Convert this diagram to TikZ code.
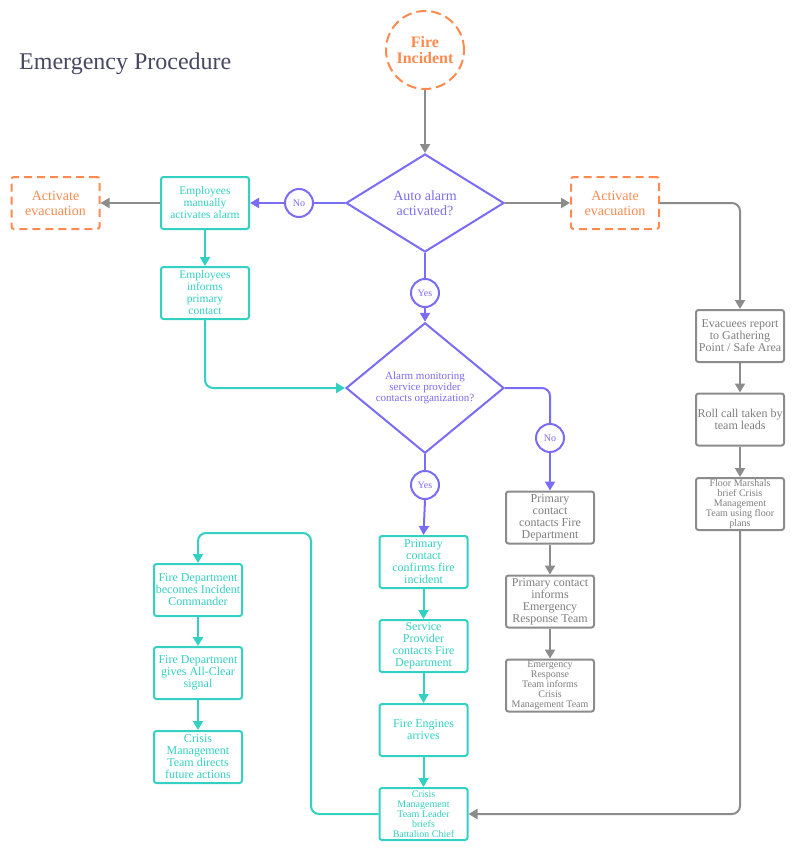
\documentclass[tikz,border=0pt]{standalone}
\usepackage{fontspec}
\setmainfont{Liberation Serif}
\usetikzlibrary{arrows.meta,shapes.geometric}
\definecolor{orng}{HTML}{FF8A50}
\definecolor{teal}{HTML}{33D1C1}
\definecolor{purp}{HTML}{7A6CF5}
\definecolor{gry}{HTML}{8C8C8C}
\definecolor{ttl}{HTML}{474762}
\tikzset{
  base/.style={line width=2pt, inner sep=0pt, align=center, fill=white},
  tbox/.style={base, draw=teal, text=teal, rounded corners=2.5pt, minimum width=88pt, minimum height=52pt, font=\fontsize{12}{12}\selectfont},
  gbox/.style={base, draw=gry, text=gry!90!black, rounded corners=2.5pt, minimum width=88pt, minimum height=52pt, font=\fontsize{12}{12}\selectfont},
  obox/.style={base, draw=orng, text=orng, dash pattern=on 8pt off 5pt, rounded corners=2.5pt, minimum width=88pt, minimum height=52pt, font=\fontsize{14}{15}\selectfont},
  dia/.style={base, draw=purp, text=purp, diamond, minimum width=158pt, minimum height=98pt},
  lab/.style={base, draw=purp, text=purp, circle, minimum size=28pt, font=\fontsize{10}{10}\selectfont},
  small/.style={font=\fontsize{10}{10}\selectfont},
  conn/.style={line width=2pt, -{Triangle[length=9pt,width=10pt]}},
  tarr/.style={conn, draw=teal},
  garr/.style={conn, draw=gry},
  parr/.style={conn, draw=purp},
  pline/.style={line width=2pt, draw=purp},
}
\begin{document}
\begin{tikzpicture}[x=1pt,y=-1pt]
\useasboundingbox (0,0) rectangle (796,851);
\fill[white] (0,0) rectangle (796,851);
% title
\node[anchor=west, text=ttl, font=\fontsize{24}{26}\selectfont, inner sep=0pt] (title) at (19,64) {Emergency Procedure};
% nodes
\node[base, circle, draw=orng, text=orng, dash pattern=on 10pt off 5pt, minimum size=78pt, font=\bfseries\fontsize{16}{16}\selectfont] (fire) at (425,50) {Fire\\Incident};
\node[dia, font=\fontsize{14}{15.5}\selectfont] (d1) at (425,203) {Auto alarm\\activated?};
\node[lab] (no1) at (299,203) {No};
\node[tbox, font=\fontsize{11.5}{12}\selectfont] (em) at (205,203) {Employees\\manually\\activates alarm};
\node[obox] (ae1) at (55.5,203) {Activate\\evacuation};
\node[obox] (ae2) at (615,203) {Activate\\evacuation};
\node[gbox] (ev) at (740,336) {Evacuees report\\to Gathering\\Point / Safe Area};
\node[gbox] (rc) at (740,419.5) {Roll call taken by\\team leads};
\node[gbox, small] (fm) at (740,504) {Floor Marshals\\brief Crisis\\Management\\Team using floor\\plans};
\node[tbox, font=\fontsize{11.5}{12}\selectfont] (ei) at (205,293) {Employees\\informs\\primary\\contact};
\node[lab] (yes1) at (425,293) {Yes};
\node[dia, font=\fontsize{11}{11}\selectfont] (d2) at (425,388) {Alarm monitoring\\service provider\\contacts organization?};
\node[lab] (no2) at (550,438) {No};
\node[gbox] (pc1) at (550,517.5) {Primary\\contact\\contacts Fire\\Department};
\node[gbox] (pc2) at (550,601.5) {Primary contact\\informs\\Emergency\\Response Team};
\node[gbox, small] (ert) at (550,685.5) {Emergency\\Response\\Team informs\\Crisis\\Management Team};
\node[lab] (yes2) at (425,485) {Yes};
\node[tbox] (pcc) at (423.5,562) {Primary\\contact\\confirms fire\\incident};
\node[tbox] (sp) at (423.5,646) {Service\\Provider\\contacts Fire\\Department};
\node[tbox] (fe) at (423.5,730) {Fire Engines\\arrives};
\node[tbox, small] (cml) at (423.5,814) {Crisis\\Management\\Team Leader\\briefs\\Battalion Chief};
\node[tbox] (fdic) at (198,590) {Fire Department\\becomes Incident\\Commander};
\node[tbox] (fdac) at (198,673) {Fire Department\\gives All-Clear\\signal};
\node[tbox] (cmt) at (198,757) {Crisis\\Management\\Team directs\\future actions};
\coordinate (loop) at (311,533);
% connectors
\draw[garr] (fire.south) -- (d1.north);
\draw[pline] (d1.west) -- (no1.east);
\draw[parr] (no1.west) -- (em.east);
\draw[garr] (em.west) -- (ae1.east);
\draw[garr] (d1.east) -- (ae2.west);
\draw[garr, rounded corners=8pt] (ae2.east) -| (ev.north);
\draw[garr] (ev.south) -- (rc.north);
\draw[garr] (rc.south) -- (fm.north);
\draw[garr, rounded corners=8pt] (fm.south) |- (cml.east);
\draw[tarr] (em.south) -- (ei.north);
\draw[tarr, rounded corners=8pt] (ei.south) |- (d2.west);
\draw[pline] (d1.south) -- (yes1.north);
\draw[parr] (yes1.south) -- (d2.north);
\draw[pline, rounded corners=8pt] (d2.east) -| (no2.north);
\draw[parr] (no2.south) -- (pc1.north);
\draw[garr] (pc1.south) -- (pc2.north);
\draw[garr] (pc2.south) -- (ert.north);
\draw[pline] (d2.south) -- (yes2.north);
\draw[parr] (yes2.south) -- (pcc.north);
\draw[tarr] (pcc.south) -- (sp.north);
\draw[tarr] (sp.south) -- (fe.north);
\draw[tarr] (fe.south) -- (cml.north);
\draw[tarr, rounded corners=8pt] (cml.west) -| (loop) -| (fdic.north);
\draw[tarr] (fdic.south) -- (fdac.north);
\draw[tarr] (fdac.south) -- (cmt.north);
\end{tikzpicture}
\end{document}
